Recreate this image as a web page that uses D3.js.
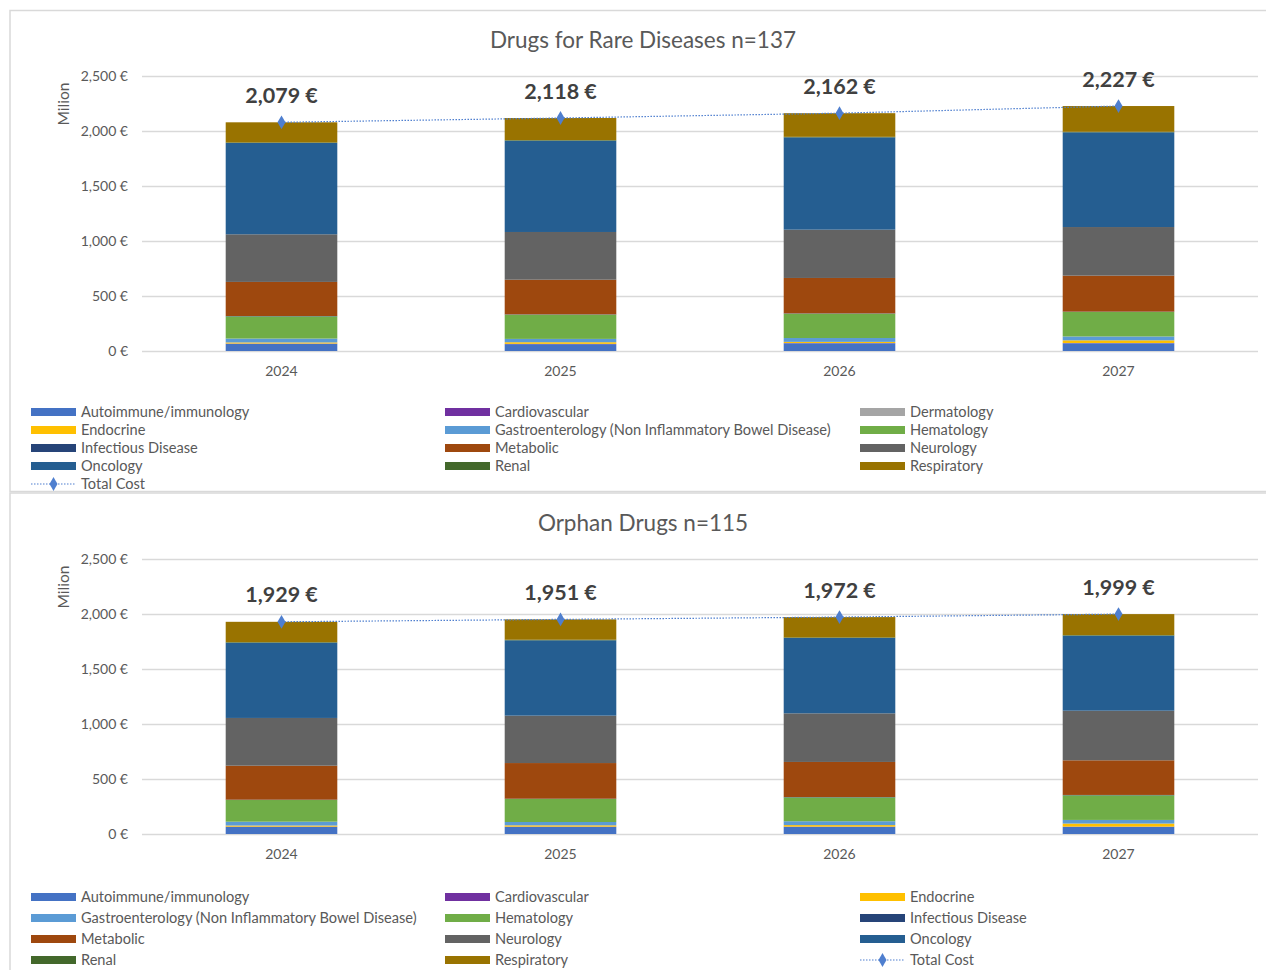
<!DOCTYPE html>
<html>
<head>
<meta charset="utf-8">
<script src="https://cdn.jsdelivr.net/npm/d3@7"></script>
<style>
  body { margin: 0; background: #fff; }
  svg { display: block; font-family: Lato, "Open Sans", sans-serif; }
</style>
</head>
<body>
<div id="chart"></div>
<script>
// categories and values (milion €)
const years = ["2024", "2025", "2026", "2027"];

const rareCategories = ["Autoimmune/immunology", "Cardiovascular", "Dermatology", "Endocrine",
  "Gastroenterology (Non Inflammatory Bowel Disease)", "Hematology", "Infectious Disease",
  "Metabolic", "Neurology", "Oncology", "Renal", "Respiratory"];
const rare2024 = [65, 2, 1, 10, 35, 202, 3, 310, 433, 830, 5, 183];
const rare2025 = [62, 2, 1, 15, 30, 220, 3, 315, 434, 830, 5, 201];
const rare2026 = [70, 2, 1, 10, 35, 221, 3, 322, 439, 839, 5, 215];
const rare2027 = [70, 2, 1, 24, 35, 223, 3, 327, 442, 861, 5, 234];
const rareTotals = [2079, 2118, 2162, 2227];

const orphanCategories = ["Autoimmune/immunology", "Cardiovascular", "Endocrine",
  "Gastroenterology (Non Inflammatory Bowel Disease)", "Hematology", "Infectious Disease",
  "Metabolic", "Neurology", "Oncology", "Renal", "Respiratory"];
const orphan2024 = [65, 2, 10, 35, 197, 3, 309, 434, 684, 5, 185];
const orphan2025 = [65, 2, 12, 30, 209, 3, 324, 431, 685, 5, 185];
const orphan2026 = [65, 2, 14, 35, 217, 3, 319, 442, 685, 5, 185];
const orphan2027 = [65, 2, 28, 33, 224, 3, 315, 451, 682, 5, 191];
const orphanTotals = [1929, 1951, 1972, 1999];

const yTicks = [0, 500, 1000, 1500, 2000, 2500];

const colors = {
  "Autoimmune/immunology": "#4472C4",
  "Cardiovascular": "#7030A0",
  "Dermatology": "#A5A5A5",
  "Endocrine": "#FFC000",
  "Gastroenterology (Non Inflammatory Bowel Disease)": "#5B9BD5",
  "Hematology": "#70AD47",
  "Infectious Disease": "#264478",
  "Metabolic": "#9E480E",
  "Neurology": "#636363",
  "Oncology": "#255E91",
  "Renal": "#43682B",
  "Respiratory": "#997300"
};
const lineColor = "#4F7FCF";
const textColor = "#595959";

const svg = d3.select("#chart")
  .append("svg")
  .attr("width", 1266)
  .attr("height", 970);

// panel frames
svg.append("rect")
  .attr("x", 10).attr("y", 10.5).attr("width", 1270).attr("height", 481)
  .attr("fill", "none").attr("stroke", "#d9d9d9").attr("stroke-width", 1.5);
svg.append("rect")
  .attr("x", 10).attr("y", 493).attr("width", 1270).attr("height", 490)
  .attr("fill", "none").attr("stroke", "#d9d9d9").attr("stroke-width", 1.5);

function drawPanel(opt) {
  const x = d3.scaleBand().domain(years).range([142, 1258]).paddingInner(0.6).paddingOuter(0.3);
  const y = d3.scaleLinear().domain([0, 2500]).range([opt.y0, opt.y0 - 275]);

  // rows of the table for stacking
  const rows = years.map((yr, i) => {
    const r = { year: yr };
    opt.categories.forEach((c, j) => { r[c] = opt.values[i][j]; });
    return r;
  });
  const series = d3.stack().keys(opt.categories)(rows);

  const g = svg.append("g");

  g.append("text")
    .attr("x", 643).attr("y", opt.titleY)
    .attr("text-anchor", "middle")
    .attr("font-size", "22.5px")
    .attr("fill", textColor)
    .text(opt.title);

  // gridlines
  g.selectAll(".grid")
    .data(yTicks)
    .enter().append("line")
    .attr("x1", 142).attr("x2", 1258)
    .attr("y1", d => y(d) + 0.5).attr("y2", d => y(d) + 0.5)
    .attr("stroke", "#d9d9d9").attr("stroke-width", 1.3);

  g.selectAll(".ytick")
    .data(yTicks)
    .enter().append("text")
    .attr("x", 128).attr("y", d => y(d))
    .attr("dy", "0.35em")
    .attr("text-anchor", "end")
    .attr("font-size", "14px")
    .attr("fill", textColor)
    .text(d => d3.format(",")(d) + " €");

  g.append("text")
    .attr("transform", `translate(69,${opt.y0 - 247}) rotate(-90)`)
    .attr("text-anchor", "middle")
    .attr("font-size", "15.5px")
    .attr("fill", textColor)
    .text("Milion");

  g.selectAll(".xtick")
    .data(years)
    .enter().append("text")
    .attr("x", d => x(d) + x.bandwidth() / 2)
    .attr("y", opt.y0 + 20)
    .attr("dy", "0.35em")
    .attr("text-anchor", "middle")
    .attr("font-size", "14px")
    .attr("fill", textColor)
    .text(d => d);

  // stacked bars
  g.selectAll(".layer")
    .data(series)
    .enter().append("g")
    .attr("fill", d => colors[d.key])
    .selectAll("rect")
    .data(d => d)
    .enter().append("rect")
    .attr("x", d => x(d.data.year))
    .attr("width", x.bandwidth())
    .attr("y", d => y(d[1]))
    .attr("height", d => y(d[0]) - y(d[1]));

  // total cost line
  const pts = years.map((yr, i) => ({ year: yr, v: opt.totals[i] }));
  const cx = d => x(d.year) + x.bandwidth() / 2;
  g.append("path")
    .datum(pts)
    .attr("fill", "none")
    .attr("stroke", lineColor)
    .attr("stroke-width", 1.2)
    .attr("stroke-dasharray", "1.5,1.5")
    .attr("d", d3.line().x(cx).y(d => y(d.v)));

  g.selectAll(".pt")
    .data(pts)
    .enter().append("path")
    .attr("transform", d => `translate(${cx(d)},${y(d.v)})`)
    .attr("d", d3.symbol().type(d3.symbolDiamond).size(55))
    .attr("fill", lineColor);

  g.selectAll(".lbl")
    .data(pts)
    .enter().append("text")
    .attr("x", cx)
    .attr("y", d => y(d.v) - 27)
    .attr("dy", "0.35em")
    .attr("text-anchor", "middle")
    .attr("font-size", "21.5px")
    .attr("font-weight", "bold")
    .attr("fill", "#404040")
    .text(d => d3.format(",")(d.v) + " €");

  // legend, 3 columns, row-major
  const items = opt.categories.map(c => ({ name: c, line: false })).concat([{ name: "Total Cost", line: true }]);
  const colX = [31, 445, 860];
  const leg = g.selectAll(".leg")
    .data(items)
    .enter().append("g")
    .attr("transform", (d, i) => `translate(${colX[i % 3]},${opt.legendY + Math.floor(i / 3) * opt.legendStep})`);

  leg.filter(d => !d.line).append("rect")
    .attr("x", 0).attr("y", -4).attr("width", 45).attr("height", 8)
    .attr("fill", d => colors[d.name]);

  const ll = leg.filter(d => d.line);
  ll.append("line")
    .attr("x1", 0).attr("x2", 45).attr("y1", 0).attr("y2", 0)
    .attr("stroke", lineColor).attr("stroke-width", 1.2)
    .attr("stroke-dasharray", "1.5,1.5");
  ll.append("path")
    .attr("transform", "translate(22.5,0)")
    .attr("d", d3.symbol().type(d3.symbolDiamond).size(55))
    .attr("fill", lineColor);

  leg.append("text")
    .attr("x", 50).attr("y", 0)
    .attr("dy", "0.35em")
    .attr("font-size", "14.6px")
    .attr("fill", textColor)
    .text(d => d.name);
}

drawPanel({
  title: "Drugs for Rare Diseases n=137",
  titleY: 48,
  y0: 351,
  categories: rareCategories,
  values: [rare2024, rare2025, rare2026, rare2027],
  totals: rareTotals,
  legendY: 412,
  legendStep: 18
});

drawPanel({
  title: "Orphan Drugs n=115",
  titleY: 531,
  y0: 834,
  categories: orphanCategories,
  values: [orphan2024, orphan2025, orphan2026, orphan2027],
  totals: orphanTotals,
  legendY: 897,
  legendStep: 21
});
</script>
</body>
</html>
